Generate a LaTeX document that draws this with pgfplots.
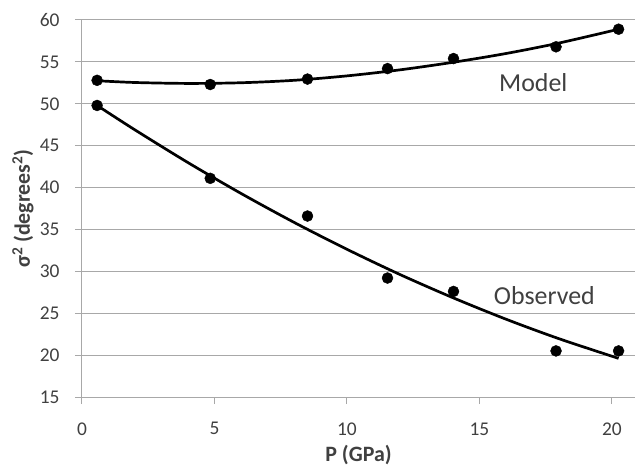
\documentclass[border=0pt]{standalone}
\usepackage{fontspec}
\setmainfont{Carlito}
\usepackage{pgfplots}
\pgfplotsset{compat=1.18}
\definecolor{gridc}{HTML}{A8A8A8}
\definecolor{txt}{HTML}{404040}
\begin{document}
\begin{tikzpicture}
\useasboundingbox (-82bp,-74bp) rectangle (553bp,397bp);
\begin{axis}[
  at={(0,0)}, anchor=south west,
  scale only axis,
  width=553bp, height=377bp,
  xmin=0, xmax=20.87, ymin=15, ymax=60,
  xtick={0,5,10,15,20}, ytick={15,20,...,60},
  ymajorgrids, grid style={gridc, line width=1bp},
  axis x line*=bottom, axis y line*=left,
  axis line style={gridc, line width=1bp, -},
  tick style={gridc, line width=1bp},
  tick align=outside, major tick length=7bp,
  /pgf/number format/assume math mode=true,
  yticklabel style={font=\fontsize{19.5}{21}\selectfont, text=txt},
  xticklabel style={font=\fontsize{19.5}{21}\selectfont, text=txt},
  yticklabel shift=12bp,
  xticklabel shift=15bp,
  xlabel={\textbf{P (GPa)}},
  ylabel={\textbf{σ\textsuperscript{2} (degrees\textsuperscript{2})}},
  xlabel style={font=\fontsize{22}{24}\selectfont, text=txt, at={(axis description cs:0.5,0)}, anchor=center, yshift=-58bp},
  ylabel style={font=\fontsize{22}{24}\selectfont, text=txt, at={(axis description cs:0,0.5)}, anchor=center, yshift=59bp},
  clip=false,
]
% Model trend curve
\addplot[black, line width=2.7bp, smooth] coordinates {
 (0.57,52.75) (2,52.54) (4,52.43) (6,52.51) (8,52.80) (10,53.33) (12,54.05)
 (14,54.95) (16,56.0) (18,57.25) (20.25,58.90)};
% Observed trend curve
\addplot[black, line width=2.7bp, smooth] coordinates {
 (0.57,49.80) (2,46.88) (4,42.98) (6,39.30) (8,35.85) (10,32.63) (12,29.62)
 (14,26.85) (16,24.29) (18,21.96) (20.25,19.61)};
% Model points
\addplot[only marks, mark=*, mark size=5.5bp, black] coordinates {
 (0.57,52.8) (4.84,52.3) (8.51,52.95) (11.53,54.2) (14.02,55.4) (17.89,56.8) (20.25,58.9)};
% Observed points
\addplot[only marks, mark=*, mark size=5.5bp, black] coordinates {
 (0.57,49.8) (4.84,41.1) (8.51,36.6) (11.53,29.2) (14.02,27.6) (17.89,20.5) (20.25,20.5)};
\node[font=\fontsize{26}{28}\selectfont, text=txt] at (axis cs:17.03,52.5) {Model};
\node[font=\fontsize{26}{28}\selectfont, text=txt] at (axis cs:17.45,27.1) {Observed};
\end{axis}
\end{tikzpicture}
\end{document}
